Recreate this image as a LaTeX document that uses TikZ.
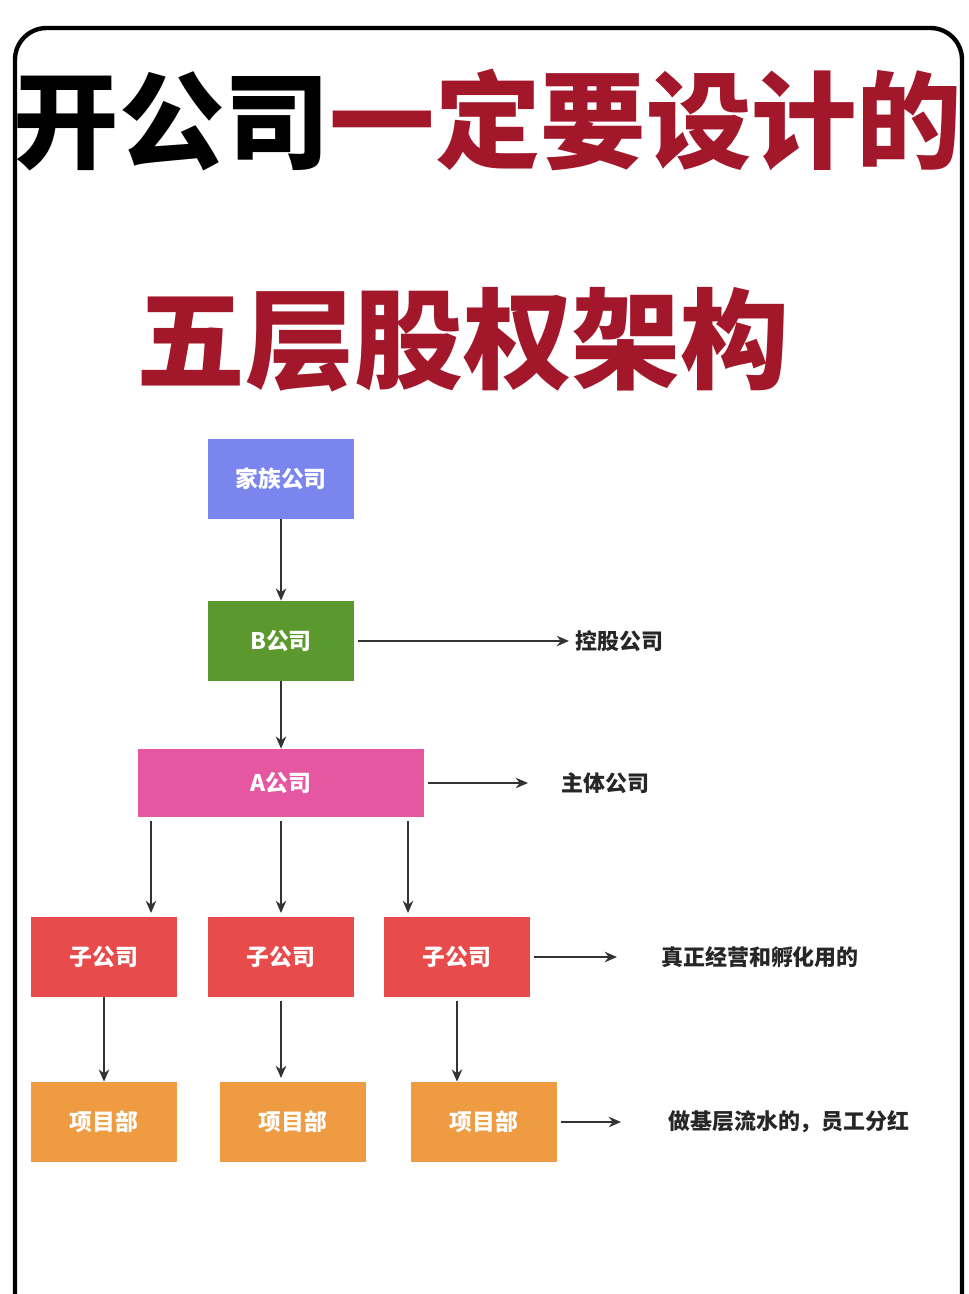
\documentclass[tikz,border=0pt]{standalone}
\usepackage{fontspec}
\setmainfont{Noto Sans CJK SC}
\usetikzlibrary{arrows.meta}
\definecolor{titlered}{HTML}{A3172B}
\definecolor{famblue}{HTML}{7A86EE}
\definecolor{bgreen}{HTML}{5B982D}
\definecolor{apink}{HTML}{E657A2}
\definecolor{subred}{HTML}{E84B4B}
\definecolor{projorange}{HTML}{EE9B42}
\begin{document}
\begin{tikzpicture}[x=0.02cm, y=-0.02cm]
  \tikzset{box/.style={inner sep=0pt, minimum width=2.92cm, minimum height=1.6cm,
                       text=white, font=\fontsize{13}{13}\selectfont\bfseries},
           note/.style={anchor=west, font=\fontsize{12.5}{13}\selectfont\bfseries, text=black!85},
           arr/.style={-{Stealth[length=7pt,width=6pt]}, thick, black!80}}
  \useasboundingbox (0,0) rectangle (968,1294);
  \draw[line width=2.5pt, rounded corners=18pt] (15,1310) -- (15,28) -- (962,28) -- (962,1310);

  % title
  \node (t1) at (488,120) {\fontsize{60}{60}\selectfont\bfseries 开公司\textcolor{titlered}{一定要设计的}};
  \node[text=titlered] (t2) at (463,340) {\fontsize{62}{62}\selectfont\bfseries 五层股权架构};

  % companies
  \node[box, fill=famblue] (fam) at (281,479) {家族公司};
  \node[box, fill=bgreen] (B) at (281,641) {B公司};
  \node[box, fill=apink, minimum width=5.72cm, minimum height=1.36cm] (A) at (281,783) {A公司};
  \foreach \i/\x in {1/104, 2/281, 3/457}
    \node[box, fill=subred] (sub\i) at (\x,957) {子公司};
  \foreach \i/\x in {1/104, 2/293, 3/484}
    \node[box, fill=projorange] (proj\i) at (\x,1122) {项目部};

  % notes
  \node[note] (nB) at (569,641) {控股公司};
  \node[note] (nA) at (555,783) {主体公司};
  \node[note] (nS) at (655,957) {真正经营和孵化用的};
  \node[note] (nP) at (662,1122) {做基层流水的，员工分红};

  \coordinate (a1) at (151,821); \coordinate (a2) at (281,821); \coordinate (a3) at (408,821);
  \coordinate (a1e) at (151,913); \coordinate (a2e) at (281,913); \coordinate (a3e) at (408,913);
  \coordinate (eA) at (528,783); \coordinate (eS) at (617,957); \coordinate (eP) at (621,1122);
  \coordinate (p2) at (281,1078);

  \draw[arr] (fam) -- (B);
  \draw[arr] (B) -- (A);
  \draw[arr] (B.east) ++(4,0) -- (nB.west);
  \draw[arr] (A.east) ++(4,0) -- (eA);
  \foreach \i in {1,2,3} \draw[arr] (a\i) -- (a\i e);
  \draw[arr] (sub1) -- (proj1);
  \draw[arr] (sub2.south) ++(0,4) -- (p2);
  \draw[arr] (sub3.south) ++(0,4) -- (sub3.south |- proj3.north);
  \draw[arr] (sub3.east) ++(4,0) -- (eS);
  \draw[arr] (proj3.east) ++(4,0) -- (eP);
\end{tikzpicture}
\end{document}
